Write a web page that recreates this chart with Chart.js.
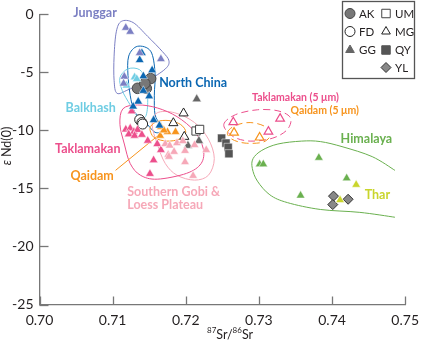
<!DOCTYPE html>
<html>
<head>
<meta charset="utf-8">
<script src="https://cdn.jsdelivr.net/npm/chart.js@4/dist/chart.umd.min.js"></script>
<style>
html,body{margin:0;padding:0;background:#fff;}
#wrap{width:427px;height:344px;position:relative;}
</style>
</head>
<body>
<div id="wrap"><canvas id="chart" width="427" height="344"></canvas></div>
<script>
// axis ticks
var xTicks = [0.70, 0.71, 0.72, 0.73, 0.74, 0.75];
var yTicks = [0, -5, -10, -15, -20, -25];

// source areas (87Sr/86Sr, eNd(0))
var junggarSr = [0.7118, 0.7124, 0.7137, 0.7166, 0.7116, 0.7115];
var junggarNd = [-1.15, -1.49, -3.32, -3.85, -5.36, -5.95];
var northChinaSr = [0.7140, 0.7137, 0.7154, 0.7142, 0.7142, 0.7150, 0.7135, 0.7128, 0.7156, 0.7164];
var northChinaNd = [-3.32, -3.93, -4.81, -5.32, -6.58, -7.05, -7.51, -7.93, -9.11, -9.57];
var balkhashSr = [0.7130, 0.7133, 0.7119];
var balkhashNd = [-5.42, -5.56, -6.12];
var taklaSr = [0.7126, 0.7118, 0.7124, 0.7129, 0.7134, 0.7122, 0.7130, 0.7140, 0.7148, 0.7161, 0.7166, 0.7156, 0.7151];
var taklaNd = [-8.35, -9.91, -9.82, -10.12, -9.95, -10.33, -10.45, -10.37, -10.88, -11.17, -11.68, -12.56, -13.74];
var gobiSr = [0.7172, 0.7178, 0.7188, 0.7196, 0.7176, 0.7184, 0.7199, 0.7212, 0.7228, 0.7177, 0.7199, 0.7210];
var gobiNd = [-11.17, -11.30, -11.09, -10.92, -12.10, -11.84, -11.76, -11.25, -11.68, -12.26, -12.73, -13.91];
var qaidamSr = [0.7166, 0.7175, 0.7186, 0.7165, 0.7170];
var qaidamNd = [-9.71, -10.13, -10.13, -10.45, -9.99];
var himalayaSr = [0.7301, 0.7306, 0.7382, 0.7420, 0.7357];
var himalayaNd = [-12.91, -12.91, -12.35, -14.12, -15.61];
var tharSr = [0.7411, 0.7433];
var tharNd = [-16.0, -14.68];
var takla5Sr = [0.7265, 0.7329, 0.7313];
var takla5Nd = [-9.29, -8.98, -10.10];
var qaidam5Sr = [0.7266, 0.7301];
var qaidam5Nd = [-10.19, -10.61];

// samples
var akSr = [0.7152, 0.7134, 0.7146, 0.7144];
var akNd = [-5.53, -6.37, -6.37, -5.95];
var fdSr = [0.7137, 0.7140, 0.7141];
var fdNd = [-9.07, -9.32, -9.45];
var ggSr = [0.7215, 0.7203, 0.7218];
var ggNd = [-7.30, -11.31, -10.89];
var umSr = [0.7214, 0.7219];
var umNd = [-10.05, -9.91];
var mgSr = [0.7197, 0.7183, 0.7198];
var mgNd = [-8.52, -9.36, -10.54];
var qySr = [0.7249, 0.7255, 0.7258, 0.7259];
var qyNd = [-10.67, -11.09, -11.46, -12.01];
var ylSr = [0.7402, 0.7422, 0.7401];
var ylNd = [-15.66, -15.93, -16.39];

// outlines round each source field
var junggarLine = [[0.7112,-0.6],[0.7128,-0.7],[0.7148,-1.9],[0.7168,-3.2],[0.7177,-4.0],[0.7172,-4.7],[0.7148,-5.7],[0.7121,-6.5],[0.7106,-6.8],[0.7102,-5.7],[0.7102,-3.6],[0.7105,-1.5]];
var northChinaLine = [[0.7134,-2.75],[0.7152,-3.17],[0.7158,-5.03],[0.7157,-6.96],[0.7158,-8.64],[0.7165,-9.49],[0.7168,-9.99],[0.7158,-10.16],[0.7144,-9.23],[0.7130,-8.39],[0.7124,-6.96],[0.7121,-5.28],[0.7122,-3.59]];
var balkhashLine = [[0.7121,-4.69],[0.7137,-4.77],[0.7145,-5.70],[0.7148,-7.38],[0.7145,-8.81],[0.7134,-8.81],[0.7124,-7.80],[0.7113,-6.54],[0.7110,-5.45]];
var taklaLine = [[0.7114,-8.14],[0.7134,-7.80],[0.7161,-8.06],[0.7188,-8.81],[0.7212,-10.08],[0.7224,-11.59],[0.7221,-12.85],[0.7201,-13.70],[0.7161,-14.2],[0.7138,-13.86],[0.7124,-12.85],[0.7116,-11.17],[0.7110,-9.49]];
var gobiLine = [[0.7161,-8.48],[0.7185,-8.48],[0.7212,-9.32],[0.7231,-10.75],[0.7239,-12.43],[0.7231,-13.86],[0.7212,-14.28],[0.7188,-13.86],[0.7172,-12.85],[0.7161,-11.17],[0.7154,-9.49]];
var qaidamLine = [[0.7152,-9.65],[0.7161,-9.23],[0.7177,-9.15],[0.7193,-9.49],[0.7200,-10.16],[0.7191,-10.75],[0.7174,-10.92],[0.7158,-10.66],[0.7152,-10.16]];
var takla5Line = [[0.7252,-9.49],[0.7268,-8.64],[0.7298,-8.22],[0.7326,-8.31],[0.7343,-8.90],[0.7339,-9.91],[0.7319,-10.66],[0.7288,-10.92],[0.7264,-10.50]];
var qaidam5Line = [[0.7257,-10.16],[0.7268,-9.57],[0.7288,-9.32],[0.7308,-9.65],[0.7316,-10.33],[0.7306,-11.0],[0.7281,-11.09],[0.7263,-10.75]];
var himalayaLine = [[0.7486,-13.44],[0.7455,-12.26],[0.7415,-11.42],[0.7384,-10.96],[0.7358,-10.92],[0.7326,-11.17],[0.7304,-11.72],[0.7292,-12.43],[0.7291,-13.27],[0.7298,-14.37],[0.7315,-15.55],[0.7339,-16.22],[0.7384,-16.81],[0.7438,-17.06],[0.7486,-17.48]];
var qaidamLeader = [[0.7104,-13.44],[0.7161,-10.50]];

var C = {
  junggar: '#7b7fc3', north: '#0b67b2', balkhash: '#6fcde3', takla: '#ec4f8c',
  gobi: '#f6a8b8', qaidam: '#f7941d', himalaya: '#6ab04f', thar: '#c9d52c', ink: '#231f20'
};

var outlines = [
  {pts: junggarLine, color: C.junggar, closed: true},
  {pts: northChinaLine, color: C.north, closed: true},
  {pts: balkhashLine, color: C.balkhash, closed: true},
  {pts: gobiLine, color: C.gobi, closed: true},
  {pts: taklaLine, color: C.takla, closed: true},
  {pts: qaidamLine, color: C.qaidam, closed: true},
  {pts: takla5Line, color: C.takla, closed: true, dash: [7, 4]},
  {pts: qaidam5Line, color: C.qaidam, closed: true, dash: [7, 4]},
  {pts: himalayaLine, color: C.himalaya, closed: false},
  {pts: qaidamLeader, color: C.qaidam, closed: false, straight: true}
];

var labels = [
  {text: 'Junggar', x: 0.7076, y: 0.15, color: C.junggar, size: 12.5},
  {text: 'North China', x: 0.7210, y: -5.95, color: C.north, size: 12.5},
  {text: 'Balkhash', x: 0.7070, y: -8.06, color: C.balkhash, size: 12.5},
  {text: 'Taklamakan', x: 0.7066, y: -11.59, color: C.takla, size: 12.5},
  {text: 'Qaidam', x: 0.7072, y: -13.95, color: C.qaidam, size: 12.5},
  {text: 'Southern Gobi &', x: 0.7120, y: -15.29, color: C.gobi, size: 12.5, align: 'left'},
  {text: 'Loess Plateau', x: 0.7120, y: -16.39, color: C.gobi, size: 12.5, align: 'left'},
  {text: 'Taklamakan (5 \u03bcm)', x: 0.7350, y: -7.21, color: C.takla, size: 10.5},
  {text: 'Qaidam (5 \u03bcm)', x: 0.7390, y: -8.31, color: C.qaidam, size: 10.5},
  {text: 'Himalaya', x: 0.7447, y: -10.75, color: C.himalaya, size: 12.5},
  {text: 'Thar', x: 0.7462, y: -15.55, color: C.thar, size: 12.5}
];

function pairs(xs, ys){
  return xs.map(function(v, i){ return {x: v, y: ys[i]}; });
}
function tri(label, xs, ys, color){
  return {label: label, data: pairs(xs, ys), pointStyle: 'triangle', pointRadius: 5,
    backgroundColor: color, borderColor: '#fff', borderWidth: 0.5};
}
function openTri(label, xs, ys, color){
  return {label: label, data: pairs(xs, ys), pointStyle: 'triangle', pointRadius: 5,
    backgroundColor: '#fff', borderColor: color, borderWidth: 1.2};
}

function smoothPath(ctx, p, closed){
  var n = p.length, t = 1/6;
  ctx.moveTo(p[0][0], p[0][1]);
  var last = closed ? n : n - 1;
  for (var i = 0; i < last; i++){
    var p0 = p[closed ? (i - 1 + n) % n : Math.max(i - 1, 0)];
    var p1 = p[i];
    var p2 = p[(i + 1) % n];
    var p3 = p[closed ? (i + 2) % n : Math.min(i + 2, n - 1)];
    ctx.bezierCurveTo(p1[0] + (p2[0] - p0[0]) * t, p1[1] + (p2[1] - p0[1]) * t,
      p2[0] - (p3[0] - p1[0]) * t, p2[1] - (p3[1] - p1[1]) * t, p2[0], p2[1]);
  }
  if (closed) ctx.closePath();
}

var outlinePlugin = {
  id: 'outlines',
  beforeDatasetsDraw: function(chart){
    var ctx = chart.ctx, sx = chart.scales.x, sy = chart.scales.y;
    ctx.save();
    outlines.forEach(function(o){
      var p = o.pts.map(function(d){ return [sx.getPixelForValue(d[0]), sy.getPixelForValue(d[1])]; });
      ctx.beginPath();
      if (o.straight){ ctx.moveTo(p[0][0], p[0][1]); ctx.lineTo(p[1][0], p[1][1]); }
      else smoothPath(ctx, p, o.closed);
      ctx.strokeStyle = o.color;
      ctx.lineWidth = 1;
      ctx.setLineDash(o.dash || []);
      ctx.stroke();
    });
    ctx.restore();
  },
  afterDatasetsDraw: function(chart){
    var ctx = chart.ctx, sx = chart.scales.x, sy = chart.scales.y;
    ctx.save();
    ctx.textBaseline = 'middle';
    labels.forEach(function(l){
      ctx.font = 'bold ' + l.size + 'px Lato';
      ctx.fillStyle = l.color;
      ctx.textAlign = l.align || 'center';
      ctx.fillText(l.text, sx.getPixelForValue(l.x), sy.getPixelForValue(l.y));
    });
    ctx.restore();
  }
};

// inward tick marks, axis titles and the marker key
var framePlugin = {
  id: 'frame',
  afterDraw: function(chart){
    var ctx = chart.ctx, a = chart.chartArea, sx = chart.scales.x, sy = chart.scales.y;
    ctx.save();
    ctx.strokeStyle = '#777';
    ctx.lineWidth = 1.3;
    xTicks.forEach(function(v){
      var x = Math.round(sx.getPixelForValue(v)) + 0.5;
      ctx.beginPath(); ctx.moveTo(x, a.bottom); ctx.lineTo(x, a.bottom - 8); ctx.stroke();
    });
    yTicks.forEach(function(v){
      var y = Math.round(sy.getPixelForValue(v)) + 0.5;
      ctx.beginPath(); ctx.moveTo(a.left, y); ctx.lineTo(a.left + 9, y); ctx.stroke();
    });

    // x title 87Sr/86Sr
    ctx.fillStyle = C.ink;
    ctx.textBaseline = 'alphabetic';
    ctx.textAlign = 'left';
    var x0 = 207, yb = 339;
    ctx.font = '8px Lato'; ctx.fillText('87', x0, yb - 6); x0 += ctx.measureText('87').width;
    ctx.font = '12.5px Lato'; ctx.fillText('Sr/', x0, yb); x0 += ctx.measureText('Sr/').width;
    ctx.font = '8px Lato'; ctx.fillText('86', x0, yb - 6); x0 += ctx.measureText('86').width;
    ctx.font = '12.5px Lato'; ctx.fillText('Sr', x0, yb);

    // y title
    ctx.save();
    ctx.translate(11, 146);
    ctx.rotate(-Math.PI / 2);
    ctx.textAlign = 'left';
    ctx.font = 'italic 12.5px Lato';
    var w1 = ctx.measureText('\u03b5 ').width;
    ctx.font = '12.5px Lato';
    var w2 = ctx.measureText('Nd(0)').width;
    var start = -(w1 + w2) / 2;
    ctx.font = 'italic 12.5px Lato';
    ctx.fillText('\u03b5 ', start, 0);
    ctx.font = '12.5px Lato';
    ctx.fillText('Nd(0)', start + w1, 0);
    ctx.restore();

    // key box
    ctx.strokeStyle = '#555';
    ctx.lineWidth = 1.3;
    ctx.setLineDash([]);
    ctx.strokeRect(342.5, 1.5, 72, 77);
    var keys = [
      {t: 'AK', x: 350, y: 13.5, s: 'circle', fill: '#777', line: '#444'},
      {t: 'UM', x: 386, y: 13.5, s: 'rect', fill: '#fff', line: '#444'},
      {t: 'FD', x: 350, y: 31.5, s: 'circle', fill: '#fff', line: '#222'},
      {t: 'MG', x: 386, y: 31.5, s: 'triangle', fill: '#fff', line: '#222'},
      {t: 'GG', x: 350, y: 50, s: 'triangle', fill: '#666', line: '#666'},
      {t: 'QY', x: 386, y: 50, s: 'rect', fill: '#555', line: '#555'},
      {t: 'YL', x: 386, y: 67.5, s: 'rectRot', fill: '#888', line: '#333'}
    ];
    ctx.font = '11.5px Lato';
    ctx.textBaseline = 'middle';
    keys.forEach(function(k){
      ctx.fillStyle = k.fill;
      ctx.strokeStyle = k.line;
      ctx.lineWidth = 1;
      var r = k.s === 'rect' ? 6 : 5;
      Chart.helpers.drawPoint(ctx, {pointStyle: k.s, radius: r, borderWidth: 1}, k.x, k.y);
      ctx.fillStyle = C.ink;
      ctx.fillText(k.t, k.x + 9, k.y + 0.5);
    });
    ctx.restore();
  }
};

var datasets = [
  tri('Junggar', junggarSr, junggarNd, C.junggar),
  tri('Balkhash', balkhashSr, balkhashNd, C.balkhash),
  tri('North China', northChinaSr, northChinaNd, C.north),
  tri('Southern Gobi & Loess Plateau', gobiSr, gobiNd, C.gobi),
  tri('Taklamakan', taklaSr, taklaNd, C.takla),
  tri('Qaidam', qaidamSr, qaidamNd, C.qaidam),
  tri('Himalaya', himalayaSr, himalayaNd, C.himalaya),
  tri('Thar', tharSr, tharNd, C.thar),
  openTri('Taklamakan (5 um)', takla5Sr, takla5Nd, C.takla),
  openTri('Qaidam (5 um)', qaidam5Sr, qaidam5Nd, C.qaidam),
  {label: 'AK', data: pairs(akSr, akNd), pointStyle: 'circle', pointRadius: 5.3, backgroundColor: '#777', borderColor: '#444', borderWidth: 1},
  {label: 'FD', data: pairs(fdSr, fdNd), pointStyle: 'circle', pointRadius: 5, backgroundColor: '#fff', borderColor: '#222', borderWidth: 1},
  {label: 'GG', data: pairs(ggSr, ggNd), pointStyle: 'triangle', pointRadius: 5.3, backgroundColor: '#666', borderColor: '#fff', borderWidth: 0.5},
  {label: 'UM', data: pairs(umSr, umNd), pointStyle: 'rect', pointRadius: 5.8, backgroundColor: '#fff', borderColor: '#444', borderWidth: 1},
  {label: 'MG', data: pairs(mgSr, mgNd), pointStyle: 'triangle', pointRadius: 5.3, backgroundColor: '#fff', borderColor: '#222', borderWidth: 1},
  {label: 'QY', data: pairs(qySr, qyNd), pointStyle: 'rect', pointRadius: 5.8, backgroundColor: '#555', borderColor: '#fff', borderWidth: 0.5},
  {label: 'YL', data: pairs(ylSr, ylNd), pointStyle: 'rectRot', pointRadius: 5, backgroundColor: '#888', borderColor: '#333', borderWidth: 1}
];

Chart.defaults.font.family = 'Lato';

new Chart(document.getElementById('chart'), {
  type: 'scatter',
  data: {datasets: datasets},
  options: {
    responsive: false,
    animation: false,
    devicePixelRatio: 1,
    layout: {padding: {top: 7, right: 14, left: 0, bottom: 0}},
    plugins: {legend: {display: false}, tooltip: {enabled: false}},
    scales: {
      x: {
        type: 'linear', min: 0.70, max: 0.75,
        afterBuildTicks: function(s){ s.ticks = xTicks.map(function(v){ return {value: v}; }); },
        afterFit: function(s){ s.height = 39.5; },
        grid: {display: false, drawTicks: false},
        border: {display: true, color: '#777', width: 1.3},
        ticks: {padding: 8, color: C.ink, font: {size: 14},
          callback: function(v){ return v.toFixed(2); }}
      },
      y: {
        type: 'linear', min: -25, max: 0,
        afterBuildTicks: function(s){ s.ticks = yTicks.map(function(v){ return {value: v}; }); },
        afterFit: function(s){ s.width = 39.5; },
        grid: {display: false, drawTicks: false},
        border: {display: true, color: '#777', width: 1.3},
        ticks: {padding: 6, color: C.ink, font: {size: 14},
          callback: function(v){ return String(v); }}
      }
    }
  },
  plugins: [outlinePlugin, framePlugin]
});
</script>
</body>
</html>
